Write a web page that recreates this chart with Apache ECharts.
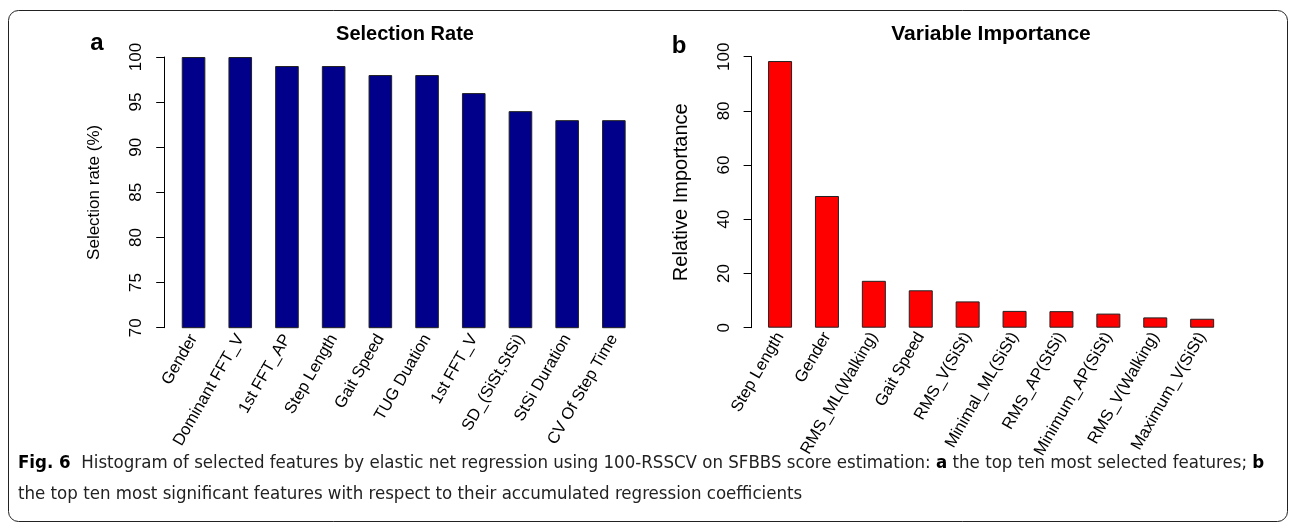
<!DOCTYPE html>
<html><head><meta charset="utf-8">
<script src="https://cdn.jsdelivr.net/npm/echarts@6/dist/echarts.min.js"></script>
<style>html,body{margin:0;padding:0;background:#fff}#c{width:1292px;height:527px}</style>
</head><body><div id="c"></div>
<script>
var selCategories = ['Gender','Dominant FFT_V','1st FFT_AP','Step Length','Gait Speed','TUG Duation','1st FFT_V','SD_(SiSt,StSi)','StSi Duration','CV Of Step Time'];
var selValues = [100,100,99,99,98,98,96,94,93,93];
var impCategories = ['Step Length','Gender','RMS_ML(Walking)','Gait Speed','RMS_V(SiSt)','Minimal_ML(SiSt)','RMS_AP(StSi)','Minimum_AP(SiSt)','RMS_V(Walking)','Maximum_V(SiSt)'];
var impValues = [98.4,48.6,17.3,13.8,9.7,6.2,6.1,5.2,3.8,3.3];
var selTicks = [70,75,80,85,90,95,100];
var impTicks = [0,20,40,60,80,100];

var F = '"Liberation Sans", Arial, sans-serif';
var CF = '"Liberation Sans Narrow", "DejaVu Sans Condensed", sans-serif';
var chart = echarts.init(document.getElementById('c'), null, {renderer:'canvas'});
function yAx(idx, min, max, step, name, nameSize, gap, offset, margin){
  return {gridIndex: idx, type:'value', min:min, max:max, interval:step, offset:offset,
    name:name, nameLocation:'middle', nameGap:gap, nameRotate:90,
    nameTextStyle:{fontFamily:F, fontSize:nameSize, color:'#000'},
    axisLine:{show:true, lineStyle:{color:'#000', width:1}},
    axisTick:{show:true, length:8, lineStyle:{color:'#000'}},
    splitLine:{show:false},
    axisLabel:{rotate:90, fontFamily:F, fontSize:17, color:'#000', margin:margin}};
}
function xAx(idx, data, size, margin){
  return {gridIndex: idx, type:'category', data:data,
    axisLine:{show:false}, axisTick:{show:false},
    axisLabel:{interval:0, rotate:60, fontFamily:F, fontSize:size, color:'#000', margin:margin}};
}
chart.setOption({
  animation:false,
  grid:[
    {left:170.2, top:57, width:467, height:270.7},
    {left:756.6, top:56.7, width:469, height:271}
  ],
  xAxis:[xAx(0, selCategories, 16.5, 8), xAx(1, impCategories, 16.5, 6)],
  yAxis:[yAx(0,70,100,5,'Selection rate (%)',17,61,6,19), yAx(1,0,100,20,'Relative Importance',20,60,5,19)],
  series:[
    {type:'bar', xAxisIndex:0, yAxisIndex:0, data:selValues, barWidth:23.6,
     itemStyle:{color:'#00008B', borderColor:'#222', borderWidth:1}},
    {type:'bar', xAxisIndex:1, yAxisIndex:1, data:impValues, barWidth:24,
     itemStyle:{color:'#FF0000', borderColor:'#222', borderWidth:1}}
  ],
  graphic:[
    {type:'rect', shape:{x:8.5, y:10.5, width:1279, height:511, r:10}, style:{fill:'none', stroke:'#222', lineWidth:1}, z:-1},
    {type:'text', x:97, y:43, style:{text:'a', font:'bold 24px '+F, fill:'#000', textAlign:'center', textVerticalAlign:'middle'}},
    {type:'text', x:679, y:46, style:{text:'b', font:'bold 24px '+F, fill:'#000', textAlign:'center', textVerticalAlign:'middle'}},
    {type:'text', x:405, y:34, style:{text:'Selection Rate', font:'bold 20px '+F, fill:'#000', textAlign:'center', textVerticalAlign:'middle'}},
    {type:'text', x:991, y:34, style:{text:'Variable Importance', font:'bold 21px '+F, fill:'#000', textAlign:'center', textVerticalAlign:'middle'}},
    {type:'text', x:18, y:463, style:{
      text:'{b|Fig. 6}  Histogram of selected features by elastic net regression using 100-RSSCV on SFBBS score estimation: {b|a} the top ten most selected features; {b|b}',
      rich:{b:{fontWeight:'bold', fontFamily:CF, fontSize:18.5, fill:'#000'}},
      font:'18.5px '+CF, fill:'#222', textVerticalAlign:'middle'}},
    {type:'text', x:18, y:494, style:{
      text:'the top ten most significant features with respect to their accumulated regression coefficients',
      font:'18.5px '+CF, fill:'#222', textVerticalAlign:'middle'}}
  ]
});
</script></body></html>
